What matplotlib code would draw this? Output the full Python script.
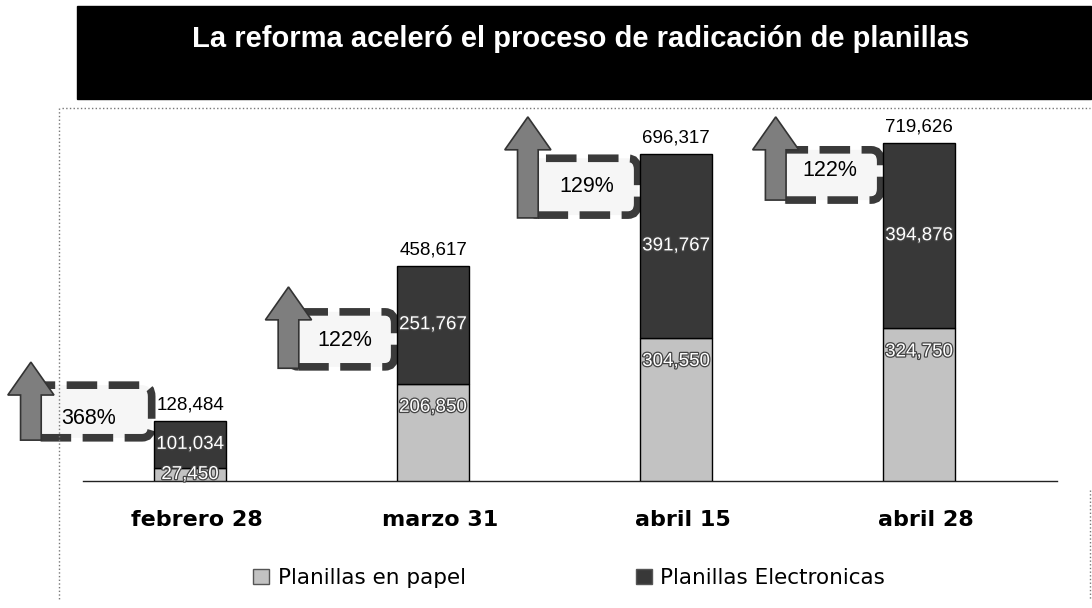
import matplotlib.pyplot as plt
import matplotlib.patches as mpatches
import matplotlib.patheffects as pe
from matplotlib.lines import Line2D

# Data
fechas = ['febrero 28', 'marzo 31', 'abril 15', 'abril 28']
papel = [27450, 206850, 304550, 324750]
electronicas = [101034, 251767, 391767, 394876]
totales = [128484, 458617, 696317, 719626]
crecimiento = ['368%', '122%', '129%', '122%']

# Callout layout (arrow x offset from bar, arrow bottom/top, box bottom/top, text x/y)
callouts = [
    dict(ax_=-0.655, a0=87000, a1=253000, b0=92000, b1=204000, tx=-0.416, ty=134000),
    dict(ax_=-0.595, a0=240000, a1=413000, b0=243000, b1=360000, tx=-0.362, ty=300000),
    dict(ax_=-0.61, a0=560000, a1=775000, b0=566000, b1=687000, tx=-0.366, ty=626000),
    dict(ax_=-0.59, a0=598000, a1=775000, b0=598000, b1=705000, tx=-0.366, ty=660000),
]

W, H = 1092, 608
fig = plt.figure(figsize=(W / 100, H / 100), dpi=100)
fig.patch.set_facecolor('white')

# banner
fig.patches.append(mpatches.Rectangle((77 / W, 1 - 99 / H), (1091 - 77) / W, 93 / H,
                                      transform=fig.transFigure, color='black', zorder=0))
fig.text(581 / W, 1 - 39 / H, 'La reforma aceleró el proceso de radicación de planillas',
         color='white', fontsize=21, fontweight='bold', family='Liberation Sans',
         ha='center', va='center')

# dotted frame
for xs, ys in [((62, 1090), (108, 108)), ((59, 59), (108, 600)), ((1090, 1090), (490, 600))]:
    fig.add_artist(Line2D([x / W for x in xs], [1 - y / H for y in ys],
                          transform=fig.transFigure, color='#777777', lw=1, ls=':'))

ax = fig.add_axes([62 / W, 1 - 481 / H, 1026 / W, 373 / H])
ax.set_xlim(-0.527, 3.695)
ax.set_ylim(0, 794000)
ax.axis('off')

x = range(len(fechas))
bw = 0.296
c_papel = '#c2c2c2'
c_elec = '#383838'
ax.bar(x, papel, bw, color=c_papel, edgecolor='black', lw=1, zorder=3, label='Planillas en papel')
ax.bar(x, electronicas, bw, bottom=papel, color=c_elec, edgecolor='black', lw=1, zorder=3,
       label='Planillas Electronicas')
# baseline
ax.plot([0.02, 0.97], [0, 0], transform=ax.transAxes, color='#222222', lw=1,
        zorder=2, clip_on=False)

stroke = [pe.withStroke(linewidth=1.8, foreground='#444444')]
for i in x:
    yp = max(papel[i] - 50000, papel[i] / 2)
    ax.text(i, yp, f'{papel[i]:,}', ha='center', va='center', color='white', fontsize=13.5,
            family='Liberation Sans', zorder=5, path_effects=stroke)
    ax.text(i, papel[i] + electronicas[i] / 2, f'{electronicas[i]:,}', ha='center', va='center',
            color='white', fontsize=13.5, family='Liberation Sans', zorder=5, path_effects=stroke)
    ax.annotate(f'{totales[i]:,}', (i, totales[i]), xytext=(0, 5), textcoords='offset points',
                ha='center', va='bottom', fontsize=13.5, family='Liberation Sans')
    fig.text(ax.transData.transform((i, 0))[0] / W + 0.006, 1 - 520 / H, fechas[i], ha='center',
             va='center', fontsize=16, fontweight='bold', family='DejaVu Sans')

    c = callouts[i]
    box = mpatches.FancyBboxPatch((i + c['ax_'], c['b0']), (-bw / 2 - 0.01) - c['ax_'],
                                  c['b1'] - c['b0'],
                                  boxstyle='round,pad=0,rounding_size=0.04',
                                  mutation_aspect=600000,
                                  facecolor='#f6f6f6', edgecolor='#3a3a3a', lw=5.5,
                                  ls=(0, (4, 1.5)), zorder=2, clip_on=False)
    ax.add_patch(box)
    arrow = mpatches.FancyArrow(i + c['ax_'], c['a0'], 0, c['a1'] - c['a0'], width=0.085,
                                head_width=0.19, head_length=70000, length_includes_head=True,
                                facecolor='#7e7e7e', edgecolor='#333333', lw=1.2, zorder=4,
                                clip_on=False)
    ax.add_patch(arrow)
    ax.text(i + c['tx'], c['ty'], crecimiento[i], ha='center', va='center', fontsize=15.5,
            family='Liberation Sans', zorder=5)

handles = [mpatches.Patch(facecolor=c_papel, edgecolor='#555555'),
           mpatches.Patch(facecolor=c_elec, edgecolor='#555555')]
fig.legend(handles, ['Planillas en papel', 'Planillas Electronicas'], loc='center',
           bbox_to_anchor=(569 / W, 1 - 578 / H), ncol=2, frameon=False, fontsize=15.5,
           handlelength=0.75, handleheight=0.75, handletextpad=0.4, columnspacing=7.9)

fig.savefig('out.png', dpi=100)
